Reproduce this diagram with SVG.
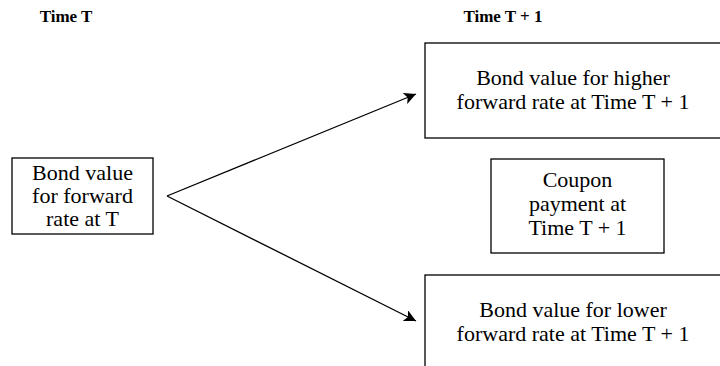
<svg xmlns="http://www.w3.org/2000/svg" width="720" height="366" viewBox="0 0 720 366">
<style>
.box{fill:#fff;stroke:#000;stroke-width:1.3}
.t{font-family:"Liberation Serif","Times New Roman",serif;font-size:22px;fill:#000;text-anchor:middle}
.h{font-family:"Liberation Serif","Times New Roman",serif;font-size:17px;font-weight:bold;fill:#000;text-anchor:middle}
.c{stroke:#000;stroke-width:1.3;fill:none}
</style>
<defs>
<marker id="ah" viewBox="0 0 10 10" refX="10" refY="5" markerWidth="12" markerHeight="12" markerUnits="userSpaceOnUse" orient="auto">
<path d="M0,0 L10,5 L0,10 L2.5,5 Z" fill="#000"/>
</marker>
</defs>
<g id="headers">
<text class="h" x="66" y="22">Time T</text>
<text class="h" x="503" y="22">Time T + 1</text>
</g>
<g id="node-t">
<rect class="box" x="12" y="158" width="141" height="76"/>
<text class="t" x="82.5" y="180">Bond value</text>
<text class="t" x="82.5" y="203">for forward</text>
<text class="t" x="82.5" y="226">rate at T</text>
</g>
<g id="node-high">
<rect class="box" x="425" y="43" width="310" height="95"/>
<text class="t" x="573" y="85">Bond value for higher</text>
<text class="t" x="573" y="109">forward rate at Time T + 1</text>
</g>
<g id="node-coupon">
<rect class="box" x="491" y="159" width="173" height="94"/>
<text class="t" x="577.5" y="187">Coupon</text>
<text class="t" x="577.5" y="211">payment at</text>
<text class="t" x="577.5" y="235">Time T + 1</text>
</g>
<g id="node-low">
<rect class="box" x="425" y="275" width="310" height="95"/>
<text class="t" x="573" y="317">Bond value for lower</text>
<text class="t" x="573" y="341">forward rate at Time T + 1</text>
</g>
<g id="connectors">
<line class="c" x1="167" y1="196" x2="416" y2="94" marker-end="url(#ah)"/>
<line class="c" x1="167" y1="196" x2="416" y2="321" marker-end="url(#ah)"/>
</g>
</svg>
